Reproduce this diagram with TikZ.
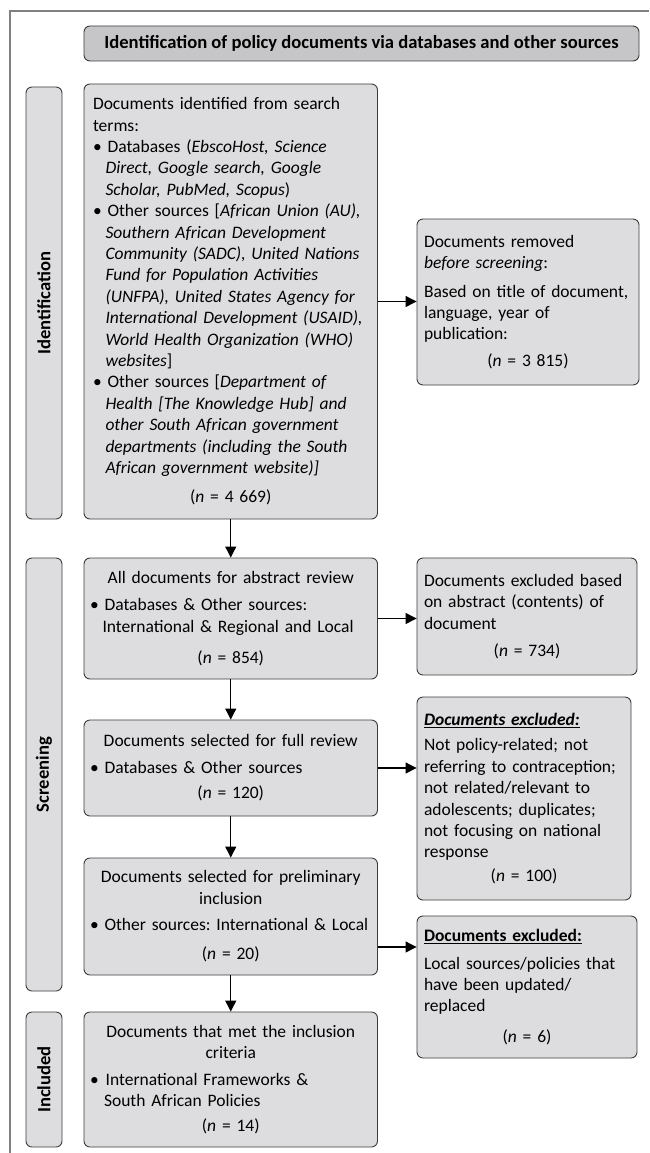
\documentclass[tikz,border=0pt]{standalone}
\usepackage{fontspec}
\setmainfont{Carlito}
\usetikzlibrary{arrows.meta}
\definecolor{boxfill}{RGB}{221,221,223}
\definecolor{headfill}{RGB}{198,198,200}
\definecolor{boxline}{RGB}{60,60,60}
\definecolor{framegray}{RGB}{128,128,128}
\newcommand{\indline}{\hspace*{12.5pt}}
\frenchspacing
\hyphenpenalty=10000
\exhyphenpenalty=10000

\begin{document}
\begin{tikzpicture}[x=1pt, y=-1pt,
    every node/.style={font=\fontsize{17.5}{21.4}\selectfont},
    box/.style={rectangle, draw=boxline, fill=boxfill, line width=0.9pt, rounded corners=6pt, inner ysep=0pt, align=left},
    header/.style={box, fill=headfill, align=center, font=\fontsize{18.6}{20}\selectfont\bfseries},
    phase/.style={box, rotate=90, align=center, inner xsep=0pt, minimum height=36pt, font=\fontsize{18.6}{20}\selectfont\bfseries},
    arrow/.style={->, >={Triangle[length=11pt, width=11pt]}, line width=1.1pt}
]
    \useasboundingbox (0,0) rectangle (649,1153);
    % frame
    \draw[framegray, line width=1.4pt] (10,1153) -- (10,11) -- (649,11);

    % header
    \node[header, minimum width=555pt, minimum height=35pt] (head) at (361.5,43.5) {Identification of policy documents via databases and other sources};

    % phase labels
    \node[phase, minimum width=432pt] (idlab) at (44,303) {Identification};
    \node[phase, minimum width=433pt] (sclab) at (44,774.5) {Screening};
    \node[phase, minimum width=135pt] (inlab) at (44,1079.5) {Included};

    % main column
    \node[box, inner xsep=9pt, text width=275.5pt, minimum height=435pt] (ident) at (230.75,301.5) {
        Documents identified from search\\
        terms:\\
        \textbullet\ Databases (\textit{EbscoHost, Science}\\
        \indline\textit{Direct, Google search, Google}\\
        \indline\textit{Scholar, PubMed, Scopus})\\
        \textbullet\ Other sources [\textit{African Union (AU),}\\
        \indline\textit{Southern African Development}\\
        \indline\textit{Community (SADC), United Nations}\\
        \indline\textit{Fund for Population Activities}\\
        \indline\textit{(UNFPA), United States Agency for}\\
        \indline\textit{International Development (USAID),}\\
        \indline\textit{World Health Organization (WHO)}\\
        \indline\textit{websites}]\\
        \textbullet\ Other sources [\textit{Department of}\\
        \indline\textit{Health [The Knowledge Hub] and}\\
        \indline\textit{other South African government}\\
        \indline\textit{departments (including the South}\\
        \indline\textit{African government website)]}\\[8pt]
        {\centering (\textit{n} = 4 669)\par}
    };
    \node[box, inner xsep=6pt, text width=281.5pt, minimum height=121pt] (abs) at (230.75,618.5) {
        {\centering All documents for abstract review\par}\vspace{6pt}
        \textbullet\ Databases \& Other sources:\\
        \indline International \& Regional and Local\\[10pt]
        {\centering (\textit{n} = 854)\par}
    };
    \node[box, inner xsep=6pt, text width=281.5pt, minimum height=96pt] (full) at (230.75,768) {
        {\centering Documents selected for full review\par}\vspace{5pt}
        \textbullet\ Databases \& Other sources\\[4pt]
        {\centering (\textit{n} = 120)\par}
    };
    \node[box, inner xsep=4pt, text width=285.5pt, minimum height=117pt] (prelim) at (230.75,916.5) {
        {\centering Documents selected for preliminary\\ inclusion\par}\vspace{5pt}
        \hspace*{2pt}\textbullet\ Other sources: International \& Local\\[8pt]
        {\centering (\textit{n} = 20)\par}
    };
    \node[box, inner xsep=6pt, text width=281.5pt, minimum height=135pt] (incl) at (230.75,1079.5) {
        {\centering Documents that met the inclusion\\ criteria\par}\vspace{5pt}
        \textbullet\hspace{7pt}International Frameworks \&\\
        \hspace*{14pt}South African Policies\\[3pt]
        {\centering (\textit{n} = 14)\par}
    };

    % excluded column
    \node[box, inner xsep=7pt, text width=208pt, minimum height=166pt] (removed) at (528,302) {
        Documents removed\\
        \textit{before screening}:\\[7pt]
        Based on title of document,\\
        language, year of\\
        publication:\\[5pt]
        {\centering (\textit{n} = 3 815)\par}
    };
    \node[box, inner xsep=7pt, text width=206pt, minimum height=117pt] (excl1) at (527,616.5) {
        Documents excluded based\\
        on abstract (contents) of\\
        document\\[6pt]
        {\centering (\textit{n} = 734)\par}
    };
    \node[box, inner xsep=7pt, text width=200pt, minimum height=203pt] (excl2) at (524,798.5) {
        \textbf{\textit{\underline{Documents excluded:}}}\\[4pt]
        Not policy-related; not\\
        referring to contraception;\\
        not related/relevant to\\
        adolescents; duplicates;\\
        not focusing on national\\
        response\\[2pt]
        {\centering (\textit{n} = 100)\par}
    };
    \node[box, inner xsep=7pt, text width=206pt, minimum height=142pt] (excl3) at (527,987) {
        \textbf{\underline{Documents excluded:}}\\[6pt]
        Local sources/policies that\\
        have been updated/\\
        replaced\\[9pt]
        {\centering (\textit{n} = 6)\par}
    };

    % arrows
    \draw[arrow] (ident) -- (abs);
    \draw[arrow] (abs) -- (full);
    \draw[arrow] (full) -- (prelim);
    \draw[arrow] (prelim) -- (incl);
    \draw[arrow] (ident.east) -- (ident.east -| removed.west);
    \draw[arrow] (abs.east) -- (abs.east -| excl1.west);
    \draw[arrow] (full.east) -- (full.east -| excl2.west);
    \draw[arrow] ([yshift=-30.5pt]prelim.east) -- ([yshift=-30.5pt]prelim.east -| excl3.west);
\end{tikzpicture}
\end{document}
